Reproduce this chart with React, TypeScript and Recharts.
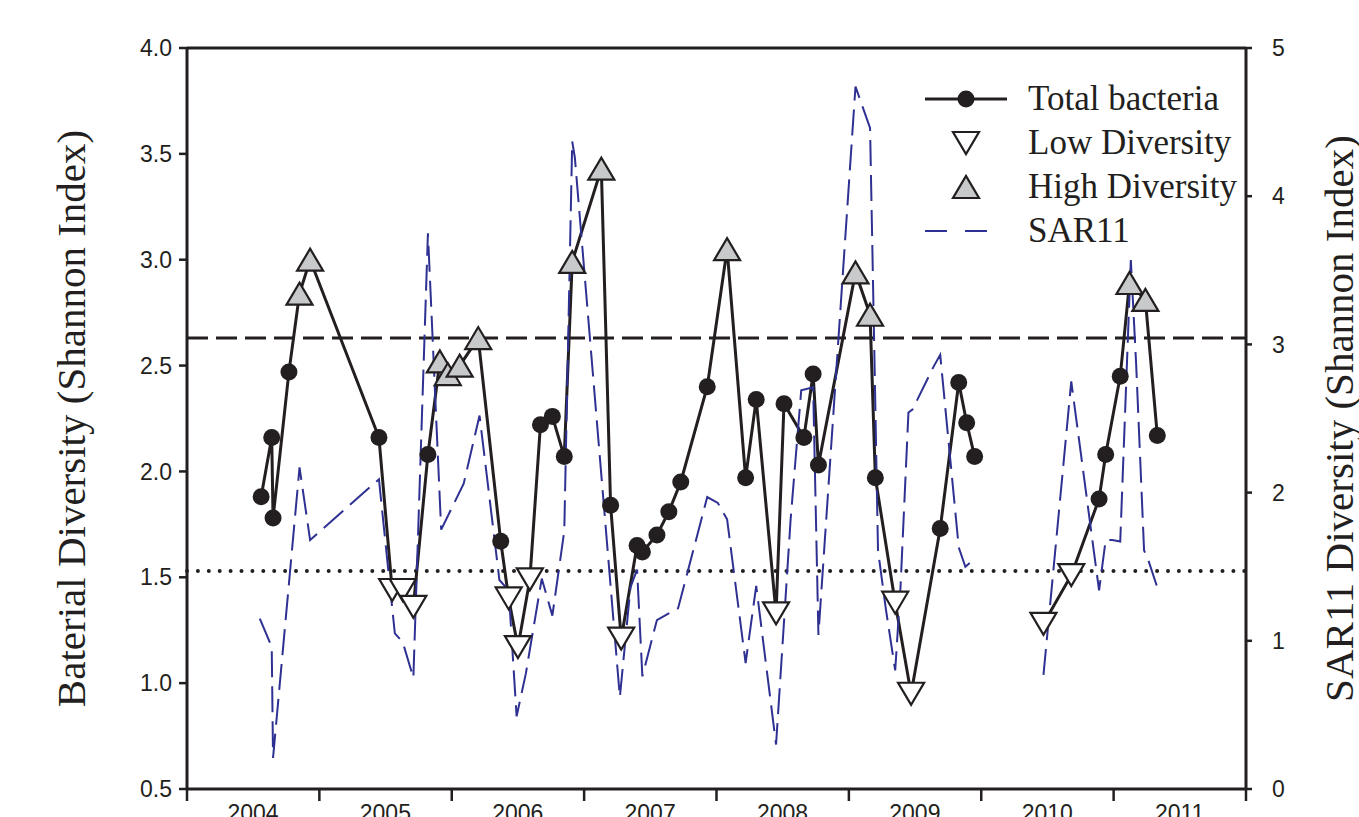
import React from 'react'
import { ComposedChart, Line, XAxis, YAxis, ReferenceLine, Legend } from 'recharts'

// [decimal year, Shannon index]
const totalBacteria: [number, number][] = [
  [2004.56, 1.88], [2004.64, 2.16], [2004.65, 1.78], [2004.77, 2.47],
  [2005.45, 2.16], [2005.82, 2.08], [2006.37, 1.67], [2006.67, 2.22],
  [2006.76, 2.26], [2006.85, 2.07], [2007.2, 1.84], [2007.4, 1.65],
  [2007.44, 1.62], [2007.55, 1.7], [2007.64, 1.81], [2007.73, 1.95],
  [2007.93, 2.4], [2008.22, 1.97], [2008.3, 2.34], [2008.51, 2.32],
  [2008.66, 2.16], [2008.73, 2.46], [2008.77, 2.03], [2009.2, 1.97],
  [2009.69, 1.73], [2009.83, 2.42], [2009.89, 2.23], [2009.95, 2.07],
  [2010.89, 1.87], [2010.94, 2.08], [2011.05, 2.45], [2011.33, 2.17],
]

const lowDiversity: [number, number][] = [
  [2005.55, 1.44], [2005.63, 1.44], [2005.71, 1.36], [2006.43, 1.4],
  [2006.5, 1.17], [2006.59, 1.49], [2007.28, 1.21], [2008.45, 1.33],
  [2009.35, 1.38], [2009.47, 0.95], [2010.47, 1.28], [2010.68, 1.51],
]

const highDiversity: [number, number][] = [
  [2004.85, 2.84], [2004.93, 3.0], [2005.91, 2.52], [2005.97, 2.46],
  [2006.06, 2.5], [2006.2, 2.63], [2006.91, 2.99], [2007.13, 3.43],
  [2008.08, 3.05], [2009.05, 2.94], [2009.16, 2.74], [2011.12, 2.89],
  [2011.24, 2.81],
]

// SAR11 diversity, right axis
const sar11: [number, number][] = [
  [2004.55, 1.15], [2004.64, 0.96], [2004.65, 0.21], [2004.85, 2.17],
  [2004.93, 1.68], [2005.45, 2.09], [2005.57, 1.05], [2005.63, 0.99],
  [2005.67, 0.87], [2005.71, 0.75], [2005.82, 3.75], [2005.92, 1.75],
  [2006.09, 2.06], [2006.21, 2.52], [2006.36, 1.41], [2006.43, 1.34],
  [2006.49, 0.49], [2006.56, 0.78], [2006.68, 1.42], [2006.76, 1.17],
  [2006.85, 1.74], [2006.91, 4.37], [2006.93, 4.26], [2007.27, 0.62],
  [2007.35, 1.36], [2007.4, 1.48], [2007.44, 0.76], [2007.55, 1.14],
  [2007.65, 1.19], [2007.71, 1.22], [2007.93, 1.97], [2008.01, 1.93],
  [2008.08, 1.82], [2008.22, 0.85], [2008.3, 1.37], [2008.45, 0.3],
  [2008.56, 1.82], [2008.64, 2.69], [2008.73, 2.71], [2008.77, 1.04],
  [2009.05, 4.74], [2009.16, 4.46], [2009.19, 3.06], [2009.22, 1.61],
  [2009.28, 1.21], [2009.35, 0.8], [2009.39, 1.36], [2009.45, 2.54],
  [2009.48, 2.56], [2009.64, 2.85], [2009.69, 2.93], [2009.83, 1.63],
  [2009.88, 1.5], [2009.96, 1.56],
  [2010.47, 0.77], [2010.68, 2.75], [2010.89, 1.34], [2010.94, 1.68],
  [2010.99, 1.68], [2011.05, 1.67], [2011.13, 3.57], [2011.17, 2.87],
  [2011.23, 1.61], [2011.26, 1.55], [2011.33, 1.36],
]

const noSampling = 2010.2 // break in both lines
const upperLimit = 2.63
const lowerLimit = 1.53

const yearTicks = [2004, 2005, 2006, 2007, 2008, 2009, 2010, 2011, 2012]
const leftTicks = [0.5, 1.0, 1.5, 2.0, 2.5, 3.0, 3.5, 4.0]
const rightTicks = [0, 1, 2, 3, 4, 5]

const INK = '#231f20'
const BLUE = '#2e3192'
const GREY = '#c8c9cb'
const SANS = '"Liberation Sans", Arial, sans-serif'
const SERIF = '"Liberation Serif", "Times New Roman", serif'

type Kind = 'total' | 'low' | 'high'

const bacteriaData = [
  ...totalBacteria.map(([x, y]) => ({ x, y, kind: 'total' as Kind })),
  ...lowDiversity.map(([x, y]) => ({ x, y, kind: 'low' as Kind })),
  ...highDiversity.map(([x, y]) => ({ x, y, kind: 'high' as Kind })),
  { x: noSampling, y: null as number | null, kind: 'total' as Kind },
].sort((a, b) => a.x - b.x)

const sarData = [
  ...sar11.map(([x, v]) => ({ x, sar: v as number | null })),
  { x: noSampling, sar: null },
].sort((a, b) => a.x - b.x)

function Marker({ cx, cy, kind }: { cx: number; cy: number; kind: Kind }) {
  if (kind === 'low') {
    return (
      <polygon
        points={`${cx - 13},${cy - 11} ${cx + 13},${cy - 11} ${cx},${cy + 11}`}
        fill="#fff" stroke={INK} strokeWidth={2.2} strokeLinejoin="miter"
      />
    )
  }
  if (kind === 'high') {
    return (
      <polygon
        points={`${cx - 13},${cy + 11} ${cx + 13},${cy + 11} ${cx},${cy - 11}`}
        fill={GREY} stroke={INK} strokeWidth={2.2} strokeLinejoin="miter"
      />
    )
  }
  return <circle cx={cx} cy={cy} r={8.5} fill={INK} />
}

const renderDot = (p: any) => {
  if (p.payload?.y == null || p.cx == null || p.cy == null) return <g key={`d-${p.index}`} />
  return <Marker key={`d-${p.index}`} cx={p.cx} cy={p.cy} kind={p.payload.kind} />
}

function YearTick({ x, y, payload }: any) {
  if (payload.value >= 2012) return <g />
  return (
    <text x={x + 66} y={y} dy="0.71em" textAnchor="middle" fontFamily={SANS} fontSize={23} fill={INK}>
      {payload.value}
    </text>
  )
}

const axisTitle = (text: string, offset: number) => (props: any) => {
  const vb = props.viewBox
  const cx = vb.x + offset
  const cy = vb.y + vb.height / 2
  return (
    <text
      x={cx} y={cy} transform={`rotate(-90 ${cx} ${cy})`}
      textAnchor="middle" dominantBaseline="central"
      fontFamily={SERIF} fontSize={41} fill={INK}
    >
      {text}
    </text>
  )
}

function LegendBox() {
  const row = (icon: React.ReactNode, label: string) => (
    <div style={{ display: 'flex', alignItems: 'center', height: 44 }}>
      <svg width={108} height={44}>{icon}</svg>
      <span style={{ whiteSpace: 'nowrap' }}>{label}</span>
    </div>
  )
  return (
    <div style={{ fontFamily: SERIF, fontSize: 35, color: INK, lineHeight: '44px' }}>
      {row(
        <g>
          <line x1={5} y1={22} x2={87} y2={22} stroke={INK} strokeWidth={3} />
          <circle cx={46} cy={22} r={8.5} fill={INK} />
        </g>,
        'Total bacteria'
      )}
      {row(<Marker cx={46} cy={22} kind="low" />, 'Low Diversity')}
      {row(<Marker cx={46} cy={22} kind="high" />, 'High Diversity')}
      {row(
        <line x1={5} y1={22} x2={75} y2={22} stroke={BLUE} strokeWidth={2} strokeDasharray="22 18" />,
        'SAR11'
      )}
    </div>
  )
}

export default function App() {
  return (
    <div style={{ position: 'absolute', left: 0, top: 0, width: 1359, height: 817, overflow: 'hidden', background: '#fff' }}>
      <ComposedChart width={1359} height={817} margin={{ top: 48, right: 0, bottom: 0, left: 0 }}>
        <XAxis
          dataKey="x" type="number" domain={[2004, 2012]} ticks={yearTicks}
          allowDataOverflow height={28} interval={0}
          axisLine={{ stroke: INK, strokeWidth: 3 }}
          tickLine={{ stroke: INK, strokeWidth: 2.5 }} tickSize={12} tickMargin={4}
          tick={<YearTick />}
        />
        <YAxis
          yAxisId="left" dataKey="y" type="number" domain={[0.5, 4]} ticks={leftTicks}
          allowDataOverflow width={187} interval={0}
          axisLine={{ stroke: INK, strokeWidth: 3 }}
          tickLine={{ stroke: INK, strokeWidth: 2.5 }} tickSize={8} tickMargin={7}
          tick={{ fontFamily: SANS, fontSize: 23, fill: INK }}
          tickFormatter={(v: number) => v.toFixed(1)}
          label={axisTitle('Baterial Diversity (Shannon Index)', 71)}
        />
        <YAxis
          yAxisId="right" orientation="right" dataKey="sar" type="number" domain={[0, 5]} ticks={rightTicks}
          allowDataOverflow width={113} interval={0}
          axisLine={{ stroke: INK, strokeWidth: 3 }}
          tickLine={{ stroke: INK, strokeWidth: 2.5 }} tickSize={6} tickMargin={20}
          tick={{ fontFamily: SANS, fontSize: 23, fill: INK }}
          label={axisTitle('SAR11 Diversity (Shannon Index)', 93)}
        />
        <ReferenceLine yAxisId="left" y={4} stroke={INK} strokeWidth={3} />
        <ReferenceLine yAxisId="left" y={upperLimit} stroke={INK} strokeWidth={3} strokeDasharray="21 8" />
        <ReferenceLine
          yAxisId="left" y={lowerLimit} stroke={INK} strokeWidth={4}
          strokeDasharray="0 10.9" strokeLinecap="round"
        />
        <Line
          yAxisId="left" data={bacteriaData} dataKey="y" type="linear"
          stroke={INK} strokeWidth={3} dot={renderDot} activeDot={false}
          isAnimationActive={false} connectNulls={false} legendType="none"
        />
        <Line
          yAxisId="right" data={sarData} dataKey="sar" type="linear"
          stroke={BLUE} strokeWidth={2} strokeDasharray="26 9" dot={false} activeDot={false}
          isAnimationActive={false} connectNulls={false} legendType="none"
        />
        <Legend
          layout="horizontal" verticalAlign="middle" align="center"
          wrapperStyle={{ left: 920, top: 77, width: 'auto' }}
          content={<LegendBox />}
        />
      </ComposedChart>
    </div>
  )
}
